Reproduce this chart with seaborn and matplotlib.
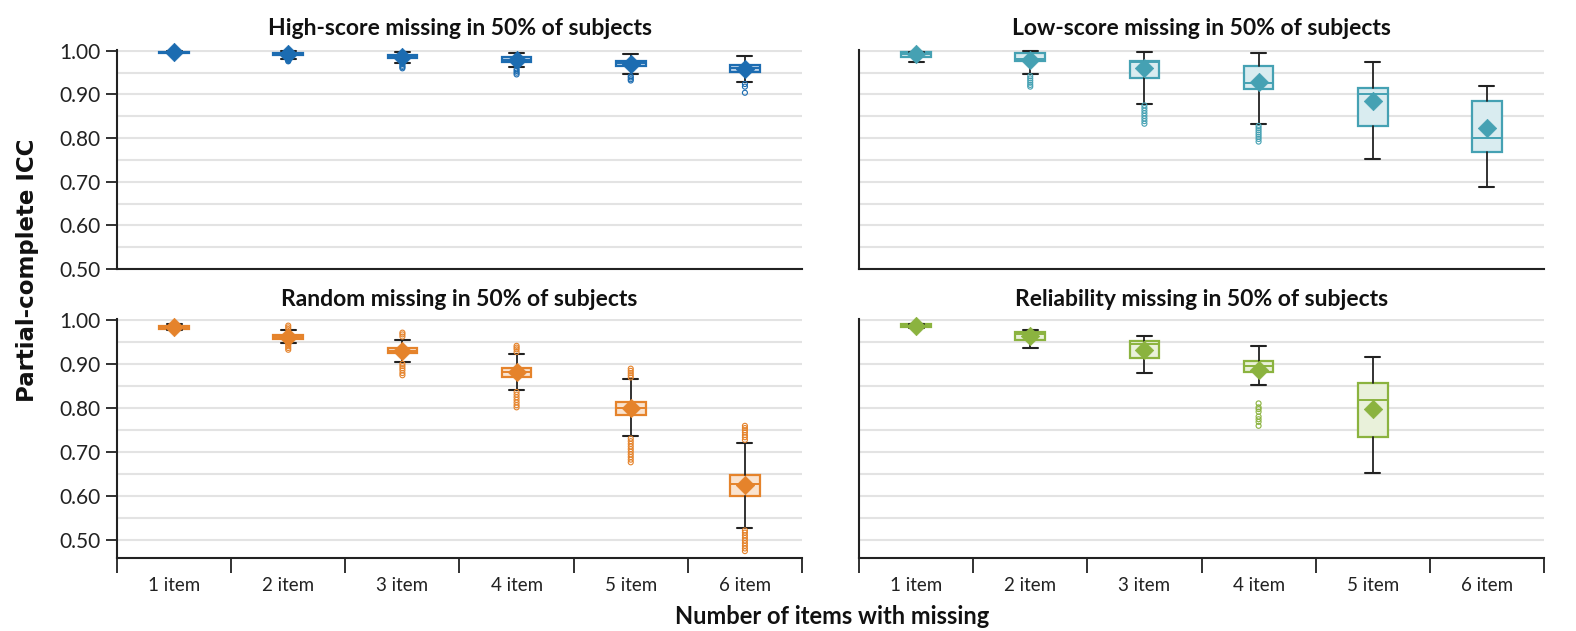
import numpy as np
import pandas as pd
import seaborn as sns
import matplotlib.pyplot as plt

items = ['1 item', '2 item', '3 item', '4 item', '5 item', '6 item']

# High-score missing
hs_whislo = [0.994, 0.981, 0.973, 0.962, 0.947, 0.929]
hs_q1 = [0.996, 0.990, 0.983, 0.975, 0.965, 0.952]
hs_med = [0.997, 0.993, 0.987, 0.980, 0.972, 0.960]
hs_q3 = [0.998, 0.995, 0.990, 0.985, 0.977, 0.968]
hs_whishi = [0.999, 0.999, 0.998, 0.996, 0.992, 0.989]
hs_mean = [0.997, 0.993, 0.987, 0.979, 0.971, 0.959]
hs_fliers = [[], [0.978, 0.976],
             [0.970, 0.966, 0.963, 0.960],
             [0.958, 0.954, 0.950, 0.946],
             [0.942, 0.939, 0.935, 0.932],
             [0.924, 0.918, 0.904]]

# Low-score missing
ls_whislo = [0.975, 0.947, 0.879, 0.833, 0.752, 0.688]
ls_q1 = [0.986, 0.977, 0.937, 0.913, 0.828, 0.768]
ls_med = [0.992, 0.981, 0.974, 0.926, 0.901, 0.801]
ls_q3 = [0.997, 0.995, 0.977, 0.966, 0.915, 0.885]
ls_whishi = [0.998, 0.999, 0.998, 0.996, 0.975, 0.920]
ls_mean = [0.992, 0.979, 0.960, 0.928, 0.884, 0.823]
ls_fliers = [[], [0.942, 0.937, 0.932, 0.927, 0.922, 0.918],
             [0.875, 0.869, 0.863, 0.857, 0.851, 0.845, 0.839, 0.833],
             [0.828, 0.823, 0.818, 0.813, 0.808, 0.803, 0.798, 0.792],
             [], []]

# Random missing
rd_whislo = [0.977, 0.948, 0.904, 0.841, 0.735, 0.527]
rd_q1 = [0.980, 0.957, 0.924, 0.871, 0.783, 0.599]
rd_med = [0.983, 0.961, 0.930, 0.881, 0.800, 0.626]
rd_q3 = [0.986, 0.966, 0.936, 0.891, 0.814, 0.647]
rd_whishi = [0.990, 0.976, 0.955, 0.923, 0.865, 0.721]
rd_mean = [0.983, 0.962, 0.929, 0.882, 0.799, 0.624]
rd_fliers = [[],
             [0.987, 0.983, 0.979, 0.944, 0.940, 0.936, 0.932],
             [0.971, 0.967, 0.962, 0.900, 0.895, 0.890, 0.885, 0.879, 0.874],
             [0.941, 0.937, 0.933, 0.927, 0.836, 0.830, 0.824, 0.818, 0.812, 0.806, 0.801],
             [0.889, 0.884, 0.879, 0.874, 0.869, 0.730, 0.724, 0.718, 0.712, 0.706,
              0.700, 0.694, 0.688, 0.682, 0.676],
             [0.759, 0.754, 0.749, 0.744, 0.738, 0.733, 0.727, 0.521, 0.516, 0.510,
              0.504, 0.498, 0.492, 0.486, 0.480, 0.474]]

# Reliability missing (no 6 item box)
rl_whislo = [0.982, 0.937, 0.879, 0.852, 0.651]
rl_q1 = [0.983, 0.955, 0.913, 0.882, 0.733]
rl_med = [0.987, 0.967, 0.945, 0.896, 0.818]
rl_q3 = [0.990, 0.972, 0.951, 0.907, 0.856]
rl_whishi = [0.991, 0.976, 0.964, 0.941, 0.915]
rl_mean = [0.987, 0.964, 0.932, 0.885, 0.797]
rl_fliers = [[], [], [], [0.810, 0.801, 0.797, 0.791, 0.780, 0.774, 0.768, 0.759], []]

sns.set_theme(style='white')
plt.rcParams['font.family'] = ['Lato', 'DejaVu Sans']

fig = plt.figure(figsize=(15.76, 6.31), dpi=100)
W, H = 1576, 631


def axes_px(x0, x1, y0, y1):
    return fig.add_axes([x0 / W, 1 - y1 / H, (x1 - x0) / W, (y1 - y0) / H])


ax_hs = axes_px(117, 802, 50, 269)
ax_ls = axes_px(859, 1544, 50, 269)
ax_rd = axes_px(117, 802, 319, 557.7)
ax_rl = axes_px(859, 1544, 319, 557.7)


def draw_panel(ax, title, color, fill, whislo, q1, med, q3, whishi, means, fliers,
               ylim, left, bottom, pad):
    stats = [dict(whislo=a, q1=b, med=c, q3=d, whishi=e, fliers=[])
             for a, b, c, d, e in zip(whislo, q1, med, q3, whishi)]
    parts = ax.bxp(stats, positions=list(range(len(stats))), widths=0.26,
                   patch_artist=True, showfliers=False, capwidths=0.13,
                   boxprops=dict(facecolor=fill, edgecolor=color, linewidth=1.6),
                   medianprops=dict(color=color, linewidth=1.4),
                   whiskerprops=dict(color='#222222', linewidth=1.3),
                   capprops=dict(color='#222222', linewidth=1.5))
    for group in parts.values():
        for art in group:
            art.set_clip_on(False)

    mdf = pd.DataFrame({'pos': range(len(means)), 'icc': means})
    sns.scatterplot(data=mdf, x='pos', y='icc', marker='D', s=88, color=color,
                    edgecolor=color, linewidth=0.5, ax=ax, zorder=6, clip_on=False)

    fx = [i for i, fl in enumerate(fliers) for _ in fl]
    fy = [v for fl in fliers for v in fl]
    if fy:
        fdf = pd.DataFrame({'pos': fx, 'icc': fy})
        sns.scatterplot(data=fdf, x='pos', y='icc', marker='o', s=13, facecolor='none',
                        edgecolor=color, linewidth=0.8, ax=ax, zorder=4)

    ax.set_xlim(-0.5, 5.5)
    ax.set_ylim(*ylim)
    ax.set_yticks(np.arange(0.5, 1.001, 0.1))
    ax.set_yticks(np.arange(0.55, 1.0, 0.1), minor=True)
    ax.grid(True, which='both', axis='y', color='#e3e3e3', linewidth=1.5, zorder=0)
    ax.set_axisbelow(True)
    ax.set_xlabel('')
    ax.set_ylabel('')
    for s in ['top', 'right']:
        ax.spines[s].set_visible(False)
    for s in ['left', 'bottom']:
        ax.spines[s].set_color('#222222')
        ax.spines[s].set_linewidth(1.5)
    ax.tick_params(axis='y', which='minor', length=0)
    if left:
        ax.set_yticklabels([f'{v:.2f}' for v in np.arange(0.5, 1.001, 0.1)])
        ax.tick_params(axis='y', which='major', length=8, width=1.3, color='#222222',
                       labelsize=15, pad=4, left=True, labelcolor='#222222')
    else:
        ax.tick_params(axis='y', which='major', length=0, labelleft=False)
    if bottom:
        ax.set_xticks(np.arange(-0.5, 5.6, 1.0))
        ax.set_xticklabels([''] * 7)
        ax.set_xticks(range(6), minor=True)
        ax.set_xticklabels(items, minor=True)
        ax.tick_params(axis='x', which='major', length=11, width=1.3, color='#222222',
                       bottom=True)
        ax.tick_params(axis='x', which='minor', length=0, labelsize=13.5, pad=14,
                       labelcolor='#222222')
    else:
        ax.set_xticks([])
    ax.set_title(title, fontsize=16.5, fontweight='bold', pad=pad, color='#111111')


draw_panel(ax_hs, 'High-score missing in 50% of subjects', '#1c6cb1', '#b9d3ec',
           hs_whislo, hs_q1, hs_med, hs_q3, hs_whishi, hs_mean, hs_fliers,
           (0.5, 1.002), True, False, 11)
draw_panel(ax_ls, 'Low-score missing in 50% of subjects', '#45a1b3', '#d9ecf0',
           ls_whislo, ls_q1, ls_med, ls_q3, ls_whishi, ls_mean, ls_fliers,
           (0.5, 1.002), False, False, 11)
draw_panel(ax_rd, 'Random missing in 50% of subjects', '#e5832b', '#fae3cf',
           rd_whislo, rd_q1, rd_med, rd_q3, rd_whishi, rd_mean, rd_fliers,
           (0.459, 1.002), True, True, 9)
draw_panel(ax_rl, 'Reliability missing in 50% of subjects', '#8bb33f', '#e9f1da',
           rl_whislo, rl_q1, rl_med, rl_q3, rl_whishi, rl_mean, rl_fliers,
           (0.459, 1.002), False, True, 9)

fig.text(28 / W, 0.572, 'Partial-complete ICC', rotation=90, ha='center', va='center',
         fontsize=16.5, fontweight='bold', family=['DejaVu Sans'], color='#111111')
fig.text(0.528, 1 - 616 / H, 'Number of items with missing', ha='center', va='center',
         fontsize=17, fontweight='bold', color='#111111')

fig.savefig('out.png', dpi=100)
